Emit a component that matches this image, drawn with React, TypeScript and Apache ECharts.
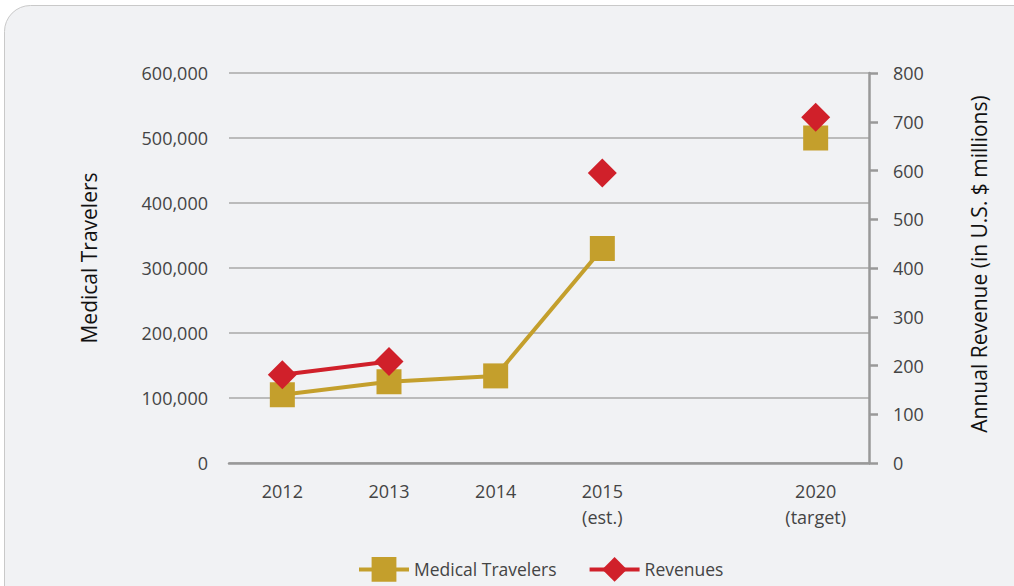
import React, { useEffect, useRef } from "react";
import * as echarts from "echarts";

const categories = ["2012", "2013", "2014", "2015\n(est.)", "", "2020\n(target)"];
const medicalTravelers = [105000, 125000, 134000, 330000, null, 500000];
const revenues = [181, 208, null, 595, null, 709];
const leftTicks = { min: 0, max: 600000, interval: 100000 };
const rightTicks = { min: 0, max: 800, interval: 100 };

const FONT = "'Open Sans', 'Noto Sans', sans-serif";
const GOLD = "#c49f2c";
const RED = "#d0202a";
const TEXT = "#444444";

export default function App() {
  const ref = useRef<HTMLDivElement>(null);
  useEffect(() => {
    if (!ref.current) return;
    const chart = echarts.init(ref.current, null, { renderer: "svg" });
    chart.setOption({
      animation: false,
      backgroundColor: "#ffffff",
      textStyle: { fontFamily: FONT },
      graphic: [
        {
          type: "rect",
          z: -10,
          silent: true,
          shape: { x: 4.5, y: 5.5, width: 1100, height: 700, r: 26 },
          style: { fill: "#f1f2f4", stroke: "#c9c9c9", lineWidth: 1 },
        },
      ],
      grid: { left: 229, right: 145, top: 73, bottom: 123, containLabel: false },
      legend: {
        left: 357,
        top: 557,
        padding: 0,
        itemWidth: 50,
        itemHeight: 31,
        itemGap: 31,
        lineStyle: { width: 4 },
        textStyle: { fontFamily: FONT, fontSize: 17.5, color: TEXT },
        data: ["Medical Travelers", "Revenues"],
      },
      xAxis: {
        type: "category",
        data: categories,
        boundaryGap: true,
        axisLine: { show: true, lineStyle: { color: "#999999", width: 2.5 } },
        axisTick: { show: false },
        axisLabel: {
          interval: 0,
          margin: 15,
          fontFamily: FONT,
          fontSize: 18,
          color: TEXT,
          lineHeight: 26,
        },
      },
      yAxis: [
        {
          type: "value",
          position: "left",
          min: leftTicks.min,
          max: leftTicks.max,
          interval: leftTicks.interval,
          name: "Medical Travelers",
          nameLocation: "middle",
          nameGap: 130,
          nameTextStyle: { fontFamily: FONT, fontSize: 21, color: "#111111", padding: [0, 0, 0, 20] },
          axisLine: { show: false },
          axisTick: { show: false },
          splitLine: { show: true, lineStyle: { color: "#a9a9a9", width: 1.5 } },
          axisLabel: {
            margin: 21,
            fontFamily: FONT,
            fontSize: 18,
            color: TEXT,
            formatter: (v: number) => v.toLocaleString("en-US"),
          },
        },
        {
          type: "value",
          position: "right",
          min: rightTicks.min,
          max: rightTicks.max,
          interval: rightTicks.interval,
          name: "Annual Revenue (in U.S. $ millions)",
          nameLocation: "middle",
          nameGap: 99,
          nameRotate: 90,
          nameTextStyle: { fontFamily: FONT, fontSize: 21, color: "#111111", padding: [0, 0, 0, 8] },
          axisLine: { show: true, lineStyle: { color: "#999999", width: 2.5 } },
          axisTick: { show: true, length: 9, lineStyle: { color: "#999999", width: 2.5 } },
          splitLine: { show: false },
          axisLabel: {
            margin: 24,
            fontFamily: FONT,
            fontSize: 18,
            color: TEXT,
          },
        },
      ],
      series: [
        {
          name: "Medical Travelers",
          type: "line",
          yAxisIndex: 0,
          data: medicalTravelers,
          connectNulls: false,
          symbol: "rect",
          symbolSize: 25,
          lineStyle: { color: GOLD, width: 4 },
          itemStyle: { color: GOLD },
          z: 2,
        },
        {
          name: "Revenues",
          type: "line",
          yAxisIndex: 1,
          data: revenues,
          connectNulls: false,
          symbol: "diamond",
          symbolSize: [29, 29],
          lineStyle: { color: RED, width: 4 },
          itemStyle: { color: RED },
          z: 3,
        },
      ],
    });
    return () => chart.dispose();
  }, []);
  return (
    <div
      ref={ref}
      style={{ position: "fixed", left: 0, top: 0, width: 1014, height: 586 }}
    />
  );
}
